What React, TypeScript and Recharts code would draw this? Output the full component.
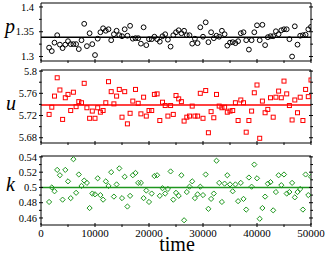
import React from 'react';
import { ScatterChart, Scatter, XAxis, YAxis, ReferenceLine } from 'recharts';

// pressure p, sampled every 500 steps
const P_VALUES = [
  1.318, 1.311, 1.328, 1.343, 1.324, 1.317, 1.324, 1.331, 1.325, 1.325,
  1.325, 1.315, 1.333, 1.366, 1.321, 1.347, 1.325, 1.303, 1.336, 1.349,
  1.357, 1.352, 1.355, 1.333, 1.345, 1.352, 1.343, 1.341, 1.355, 1.342,
  1.362, 1.336, 1.337, 1.337, 1.326, 1.359, 1.323, 1.335, 1.335, 1.340,
  1.335, 1.330, 1.341, 1.345, 1.334, 1.320, 1.343, 1.349, 1.353,
  1.347, 1.352, 1.343, 1.343, 1.326, 1.336, 1.327, 1.359, 1.340, 1.369,
  1.329, 1.349, 1.337, 1.342, 1.340, 1.352, 1.345, 1.322, 1.328, 1.329,
  1.327, 1.331, 1.347, 1.349, 1.333, 1.314, 1.333, 1.349, 1.363, 1.333,
  1.364, 1.323, 1.339, 1.341, 1.341, 1.351, 1.345, 1.353, 1.355, 1.355,
  1.335, 1.300, 1.361, 1.324, 1.342, 1.343, 1.344, 1.355, 1.360,
];

const U_VALUES = [
  5.722, 5.735, 5.755, 5.788, 5.766, 5.713, 5.752, 5.758, 5.729, 5.762,
  5.736, 5.745, 5.743, 5.778, 5.734, 5.715, 5.728, 5.715, 5.734, 5.726,
  5.729, 5.743, 5.781, 5.763, 5.741, 5.755, 5.767, 5.717, 5.763, 5.705,
  5.724, 5.746, 5.767, 5.742, 5.723, 5.753, 5.719, 5.729, 5.729, 5.758,
  5.759, 5.711, 5.744, 5.738, 5.719, 5.738, 5.722, 5.756, 5.750,
  5.745, 5.710, 5.717, 5.719, 5.737, 5.719, 5.719, 5.760, 5.715, 5.765,
  5.689, 5.727, 5.716, 5.758, 5.737, 5.734, 5.735, 5.726, 5.728, 5.729,
  5.743, 5.711, 5.748, 5.743, 5.690, 5.711, 5.728, 5.761, 5.775, 5.679,
  5.746, 5.725, 5.731, 5.752, 5.717, 5.753, 5.764, 5.752, 5.782, 5.759,
  5.738, 5.712, 5.748, 5.725, 5.753, 5.711, 5.767, 5.754, 5.784,
];

const K_VALUES = [
  0.481, 0.500, 0.495, 0.523, 0.516, 0.484, 0.523, 0.508, 0.486, 0.537,
  0.493, 0.517, 0.502, 0.509, 0.506, 0.473, 0.492, 0.491, 0.512, 0.490,
  0.484, 0.508, 0.502, 0.520, 0.488, 0.504, 0.525, 0.486, 0.514, 0.475,
  0.489, 0.516, 0.519, 0.506, 0.506, 0.486, 0.496, 0.481, 0.492, 0.515,
  0.516, 0.489, 0.499, 0.492, 0.498, 0.521, 0.484, 0.493, 0.489,
  0.516, 0.457, 0.494, 0.501, 0.508, 0.486, 0.491, 0.501, 0.490, 0.517,
  0.472, 0.485, 0.492, 0.535, 0.506, 0.481, 0.505, 0.516, 0.504, 0.495,
  0.504, 0.482, 0.506, 0.485, 0.471, 0.513, 0.501, 0.530, 0.512, 0.459,
  0.473, 0.488, 0.505, 0.507, 0.470, 0.494, 0.516, 0.503, 0.517, 0.492,
  0.494, 0.506, 0.487, 0.494, 0.498, 0.471, 0.517, 0.490, 0.514,
];

const TIME = P_VALUES.map((_, i) => 1500 + 500 * i);
const TIME_TICKS = [0, 5000, 10000, 15000, 20000, 25000, 30000, 35000, 40000, 45000, 50000];

const P_TICKS = [1.3, 1.325, 1.35, 1.375, 1.4];
const U_TICKS = [5.68, 5.7, 5.72, 5.74, 5.76, 5.78, 5.8];
const K_TICKS = [0.46, 0.47, 0.48, 0.49, 0.5, 0.51, 0.52, 0.53, 0.54];

const P_MEAN = 1.339;
const U_MEAN = 5.739;
const K_MEAN = 0.5;

const W = 327;
const H = 255;
const PLOT_LEFT = 41;
const PLOT_RIGHT = 311;
const FONT = "'Liberation Serif', 'Times New Roman', serif";
const GREEN = '#1e961e';

const XTick = (props: any) => {
  const { x, y, payload, dir, labels } = props;
  const major = payload.value % 10000 === 0;
  const len = major ? 4 : 2.5;
  return (
    <g>
      <line x1={x} x2={x} y1={y} y2={y + dir * len} stroke="#000" />
      {labels && major && (
        <text x={x} y={y + 10} textAnchor="middle" fontFamily={FONT} fontSize={11} fill="#000">
          {payload.value}
        </text>
      )}
    </g>
  );
};

const YTick = (props: any) => {
  const { x, y, payload, index, dir, gap } = props;
  const major = index % 2 === 0;
  const len = major ? 4 : 2.5;
  return (
    <g>
      <line x1={x} x2={x + dir * len} y1={y} y2={y} stroke="#000" />
      {gap != null && major && (
        <text x={x - gap} y={y} dy="0.35em" textAnchor="end" fontFamily={FONT} fontSize={10.5} fill="#000">
          {payload.value}
        </text>
      )}
    </g>
  );
};

type Marker = 'circle' | 'square' | 'diamond';

const drawMarker = (marker: Marker, color: string) => (props: any) => {
  const { cx, cy } = props;
  if (marker === 'circle') {
    return <circle cx={cx} cy={cy} r={2.4} fill="none" stroke={color} strokeWidth={1} />;
  }
  if (marker === 'square') {
    return <rect x={cx - 2} y={cy - 2} width={4} height={4} fill="none" stroke={color} strokeWidth={1} />;
  }
  const r = 2.6;
  return (
    <path
      d={`M${cx},${cy - r}L${cx + r},${cy}L${cx},${cy + r}L${cx - r},${cy}Z`}
      fill="none"
      stroke={color}
      strokeWidth={1}
    />
  );
};

interface PanelProps {
  values: number[];
  domain: [number, number];
  ticks: number[];
  mean: number;
  color: string;
  marker: Marker;
  top: number;
  bottom: number;
  labelGap: number;
  showTime?: boolean;
}

// axes of width/height 0 are not drawn, so the extra frame axes get 1px
const Panel: React.FC<PanelProps> = ({ values, domain, ticks, mean, color, marker, top, bottom, labelGap, showTime }) => {
  const data = values.map((v, i) => ({ t: TIME[i], v }));
  return (
    <div style={{ position: 'absolute', left: 0, top: 0 }}>
      <ScatterChart
        width={W}
        height={H}
        margin={{ top: top - 1, right: W - PLOT_RIGHT - 1, bottom: H - bottom - 1, left: 0 }}
      >
        <XAxis
          xAxisId="b"
          dataKey="t"
          type="number"
          domain={[0, 50000]}
          allowDataOverflow
          ticks={TIME_TICKS}
          interval={0}
          height={1}
          tickSize={0}
          tickLine={false}
          axisLine={{ stroke: '#000' }}
          tick={(p: any) => <XTick {...p} dir={-1} labels={!!showTime} />}
        />
        <XAxis
          xAxisId="t"
          orientation="top"
          type="number"
          domain={[0, 50000]}
          allowDataOverflow
          ticks={TIME_TICKS}
          interval={0}
          height={1}
          tickSize={0}
          tickLine={false}
          axisLine={{ stroke: '#000' }}
          tick={(p: any) => <XTick {...p} dir={1} labels={false} />}
        />
        <YAxis
          yAxisId="l"
          dataKey="v"
          type="number"
          domain={domain}
          allowDataOverflow
          ticks={ticks}
          interval={0}
          width={PLOT_LEFT}
          tickSize={0}
          tickLine={false}
          axisLine={{ stroke: '#000' }}
          tick={(p: any) => <YTick {...p} dir={1} gap={labelGap} />}
        />
        <YAxis
          yAxisId="r"
          orientation="right"
          type="number"
          domain={domain}
          allowDataOverflow
          ticks={ticks}
          interval={0}
          width={1}
          tickSize={0}
          tickLine={false}
          axisLine={{ stroke: '#000' }}
          tick={(p: any) => <YTick {...p} dir={-1} gap={null} />}
        />
        <ReferenceLine xAxisId="b" yAxisId="l" y={mean} stroke={color} strokeWidth={1.5} />
        <Scatter
          xAxisId="b"
          yAxisId="l"
          data={data}
          dataKey="v"
          isAnimationActive={false}
          shape={drawMarker(marker, color)}
        />
      </ScatterChart>
    </div>
  );
};

const App: React.FC = () => {
  const letter = { fontFamily: FONT, fontStyle: 'italic' as const, fontSize: 20, fill: '#000' };
  return (
    <div style={{ position: 'absolute', left: 0, top: 0, width: W, height: H, background: '#fff' }}>
      <Panel values={P_VALUES} domain={[1.291, 1.408]} ticks={P_TICKS} mean={P_MEAN} color="#000" marker="circle" top={3} bottom={61} labelGap={5} />
      <Panel values={U_VALUES} domain={[5.6705, 5.802]} ticks={U_TICKS} mean={U_MEAN} color="#ff0000" marker="square" top={70} bottom={143} labelGap={2} />
      <Panel values={K_VALUES} domain={[0.4508, 0.5412]} ticks={K_TICKS} mean={K_MEAN} color={GREEN} marker="diamond" top={156} bottom={225} labelGap={2} showTime />
      <svg width={W} height={H} style={{ position: 'absolute', left: 0, top: 0, pointerEvents: 'none' }}>
        <text x={5} y={33} {...letter}>p</text>
        <text x={6} y={110} {...letter}>u</text>
        <text x={6} y={191} {...letter}>k</text>
        <text x={177} y={251} textAnchor="middle" fontFamily={FONT} fontSize={20} fill="#000">time</text>
      </svg>
    </div>
  );
};

export default App;
